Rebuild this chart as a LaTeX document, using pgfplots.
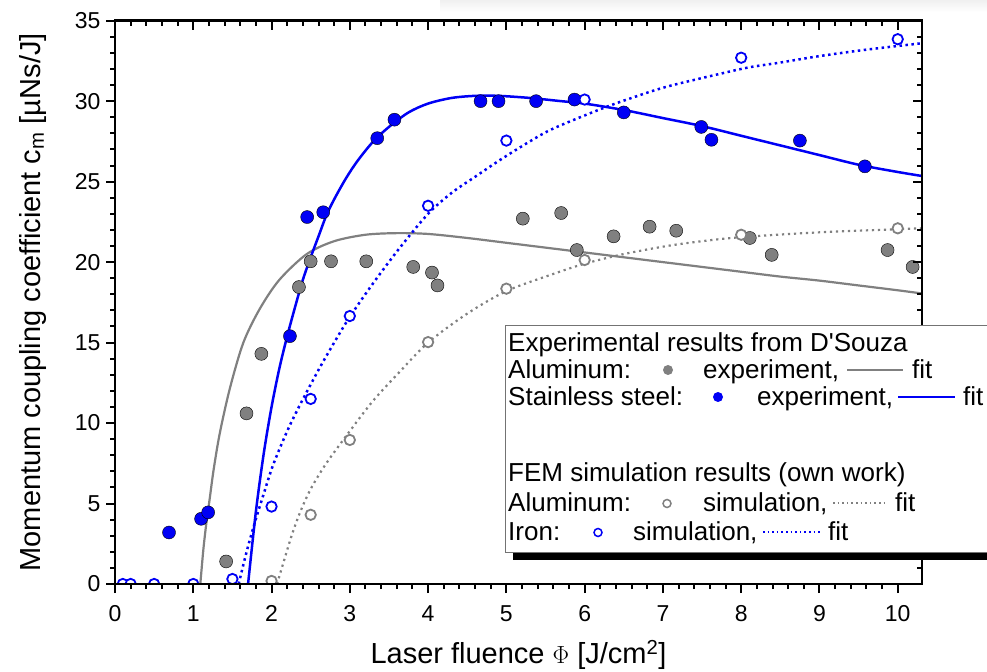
\documentclass[border=0pt]{standalone}
\usepackage{fontspec}
\setmainfont{Liberation Sans}
\usepackage{pgfplots}
\pgfplotsset{compat=1.18}
\definecolor{mgray}{RGB}{128,128,128}
\definecolor{mblue}{RGB}{0,0,245}
\newcommand{\lf}{\fontsize{26bp}{31bp}\selectfont}
\begin{document}
\begin{tikzpicture}
\path[use as bounding box] (0bp,0bp) rectangle (987bp,672bp);
\shade[top color=black!6, bottom color=white] (440bp,660bp) rectangle (987bp,672bp);
\begin{axis}[
  at={(115bp,88bp)}, anchor=south west, scale only axis,
  width=807bp, height=563.3bp,
  xmin=0, xmax=10.31, ymin=0, ymax=35,
  xtick={0,...,10}, ytick={0,5,...,35},
  minor x tick num=4, minor y tick num=4,
  xtick pos=left, ytick pos=left, tick align=outside,
  major tick length=9bp, minor tick length=5bp,
  every tick/.style={black, line width=2bp},
  axis line style={line width=2.5bp},
  /pgf/number format/assume math mode=true,
  ticklabel style={font=\fontsize{23bp}{27bp}\selectfont},
  xticklabel style={yshift=-9bp},
  yticklabel style={xshift=-2bp},
  xlabel={Laser fluence $\Phi$ [J/cm\textsuperscript{2}]},
  ylabel={Momentum coupling coefficient c\textsubscript{m} [µNs/J]},
  label style={font=\fontsize{29bp}{34bp}\selectfont},
  xlabel style={at={(axis description cs:0.5,-0.1420)}, anchor=base},
  ylabel style={at={(axis description cs:-0.0929,0.5)}, anchor=base},
  clip marker paths=true,
]
% Aluminum fit (D'Souza)
\addplot[mgray, line width=2.2bp, smooth] coordinates {
(1.09,0)(1.13,2.2)(1.17,3.9)(1.21,5.3)(1.26,7.1)(1.34,9.4)(1.47,12.2)(1.64,15.0)
(1.85,17.1)(2.1,18.9)(2.45,20.5)(2.8,21.3)(3.2,21.7)(3.6,21.8)(4.0,21.75)(4.5,21.5)
(5.0,21.2)(5.5,20.9)(6.0,20.6)(6.5,20.3)(7.0,20.0)(7.5,19.7)(8.0,19.4)(8.5,19.1)
(9.0,18.85)(9.5,18.55)(10.0,18.25)(10.31,18.05)};
% Stainless steel fit
\addplot[mblue, line width=2.5bp, smooth] coordinates {
(1.70,0)(1.80,4.5)(1.90,8.1)(2.00,11.0)(2.10,13.4)(2.20,15.4)(2.30,17.2)(2.40,18.9)
(2.50,20.3)(2.60,21.6)(2.70,22.9)(2.80,23.9)(2.95,25.2)(3.10,26.3)(3.30,27.5)(3.50,28.4)
(3.75,29.3)(4.00,29.85)(4.30,30.2)(4.60,30.33)(4.90,30.33)(5.30,30.2)(5.70,30.0)
(6.00,29.85)(6.50,29.45)(7.00,28.95)(7.50,28.45)(8.00,27.85)(8.50,27.25)(9.00,26.65)
(9.50,26.05)(10.00,25.6)(10.31,25.35)};
% Aluminum simulation fit
\addplot[mgray, line width=2.2bp, dash pattern=on 2.2bp off 3.8bp, smooth] coordinates {
(2.07,0)(2.15,1.3)(2.25,2.9)(2.36,4.4)(2.5,5.9)(2.7,7.5)(3.0,9.5)(3.3,11.4)(3.64,13.2)
(4.0,15.0)(4.5,16.8)(5.0,18.2)(5.56,19.2)(6.0,19.9)(6.5,20.5)(7.05,21.0)(7.5,21.3)
(8.0,21.55)(9.0,21.85)(10.31,22.1)};
% Iron simulation fit
\addplot[mblue, line width=2.5bp, dash pattern=on 2.5bp off 3.5bp, smooth] coordinates {
(1.58,0)(1.65,1.4)(1.72,2.7)(1.81,4.2)(1.9,5.6)(2.02,7.4)(2.2,9.5)(2.36,11.1)(2.6,13.3)
(2.8,15.0)(3.0,16.6)(3.3,18.7)(3.64,20.9)(4.0,23.0)(4.3,24.3)(4.6,25.3)(4.92,26.35)
(5.3,27.5)(5.6,28.3)(6.2,29.5)(6.6,30.2)(7.05,30.9)(7.73,31.7)(8.1,32.1)(8.5,32.4)
(9.0,32.8)(9.6,33.2)(10.31,33.6)};
% Aluminum experiment
\addplot[only marks, mark=*, mark size=6.5bp, mark options={draw=none, fill=mgray}] coordinates {
(1.42,1.4)(1.68,10.6)(1.87,14.3)(2.35,18.45)(2.50,20.05)(2.76,20.05)(3.21,20.05)
(3.81,19.7)(4.05,19.35)(4.12,18.55)(5.21,22.7)(5.70,23.05)(5.90,20.75)(6.37,21.6)
(6.83,22.2)(7.17,21.95)(8.11,21.5)(8.39,20.45)(9.87,20.75)(10.19,19.7)};
% Stainless steel experiment
\addplot[only marks, mark=*, mark size=6.5bp, mark options={draw=none, fill=mblue}] coordinates {
(0.69,3.2)(1.10,4.05)(1.19,4.45)(2.235,15.4)(2.455,22.8)(2.66,23.1)(3.35,27.7)(3.57,28.85)
(4.67,30.0)(4.90,30.0)(5.38,30.0)(5.87,30.1)(6.50,29.3)(7.49,28.4)(7.62,27.6)
(8.75,27.55)(9.58,25.95)};
% Aluminum simulation
\addplot[only marks, mark=*, mark size=5.2bp, mark options={draw=mgray, fill=white, line width=1.8bp}] coordinates {
(2.0,0.19)(2.5,4.3)(3.0,8.95)(4.0,15.03)(5.0,18.35)(6.0,20.13)(8.0,21.7)(10.0,22.1)};
% Iron simulation
\addplot[only marks, mark=*, mark size=5.2bp, mark options={draw=mblue, fill=white, line width=1.8bp}] coordinates {
(0.1,0)(0.2,0)(0.5,0)(1.0,0)(1.5,0.31)(2.0,4.81)(2.5,11.5)(3.0,16.65)(4.0,23.5)
(5.0,27.55)(6.0,30.1)(8.0,32.7)(10.0,33.85)};
\end{axis}
\begin{axis}[
  at={(115bp,88bp)}, anchor=south west, scale only axis,
  width=807bp, height=563.3bp,
  xmin=0, xmax=10.31, ymin=0, ymax=35,
  xtick={0,...,10}, ytick={0,5,...,35},
  minor x tick num=4, minor y tick num=4,
  xtick pos=right, ytick pos=right, tick align=inside,
  xticklabels={}, yticklabels={},
  every tick label/.append style={opacity=0},
  major tick length=9bp, minor tick length=5bp,
  every tick/.style={black, line width=2bp},
  axis line style={line width=2.5bp},
]
\end{axis}
% legend
\fill[black] (513bp,112bp) rectangle (1012bp,339bp);
\draw[fill=white, draw=black!55, line width=1bp] (505bp,119bp) rectangle (1005bp,346bp);
\begin{scope}[every node/.style={anchor=base west, inner sep=0pt, font=\lf}]
\node at (508bp,320.5bp) {Experimental results from D\textquotesingle Souza};
\node at (508bp,293.5bp) {Aluminum:};
\fill[mgray] (668bp,302bp) circle (5bp);
\node at (703bp,293.5bp) {experiment,};
\draw[mgray, line width=2.2bp] (847bp,302bp) -- (903bp,302bp);
\node at (912bp,293.5bp) {fit};
\node at (508bp,266.5bp) {Stainless steel:};
\fill[mblue] (718bp,275bp) circle (5bp);
\node at (757bp,266.5bp) {experiment,};
\draw[mblue, line width=2.5bp] (898bp,275bp) -- (955bp,275bp);
\node at (963bp,266.5bp) {fit};
\node at (508bp,190bp) {FEM simulation results (own work)};
\node at (508bp,160bp) {Aluminum:};
\draw[mgray, line width=1.5bp] (667bp,168.5bp) circle (4bp);
\node at (703bp,160bp) {simulation,};
\draw[mgray, line width=2bp, dash pattern=on 1.6bp off 3bp] (833bp,168.5bp) -- (888bp,168.5bp);
\node at (895bp,160bp) {fit};
\node at (508bp,131bp) {Iron:};
\draw[mblue, line width=1.5bp] (598bp,139.5bp) circle (4bp);
\node at (633bp,131bp) {simulation,};
\draw[mblue, line width=2bp, dash pattern=on 1.6bp off 3bp] (763bp,139.5bp) -- (820bp,139.5bp);
\node at (828bp,131bp) {fit};
\end{scope}
\end{tikzpicture}
\end{document}
